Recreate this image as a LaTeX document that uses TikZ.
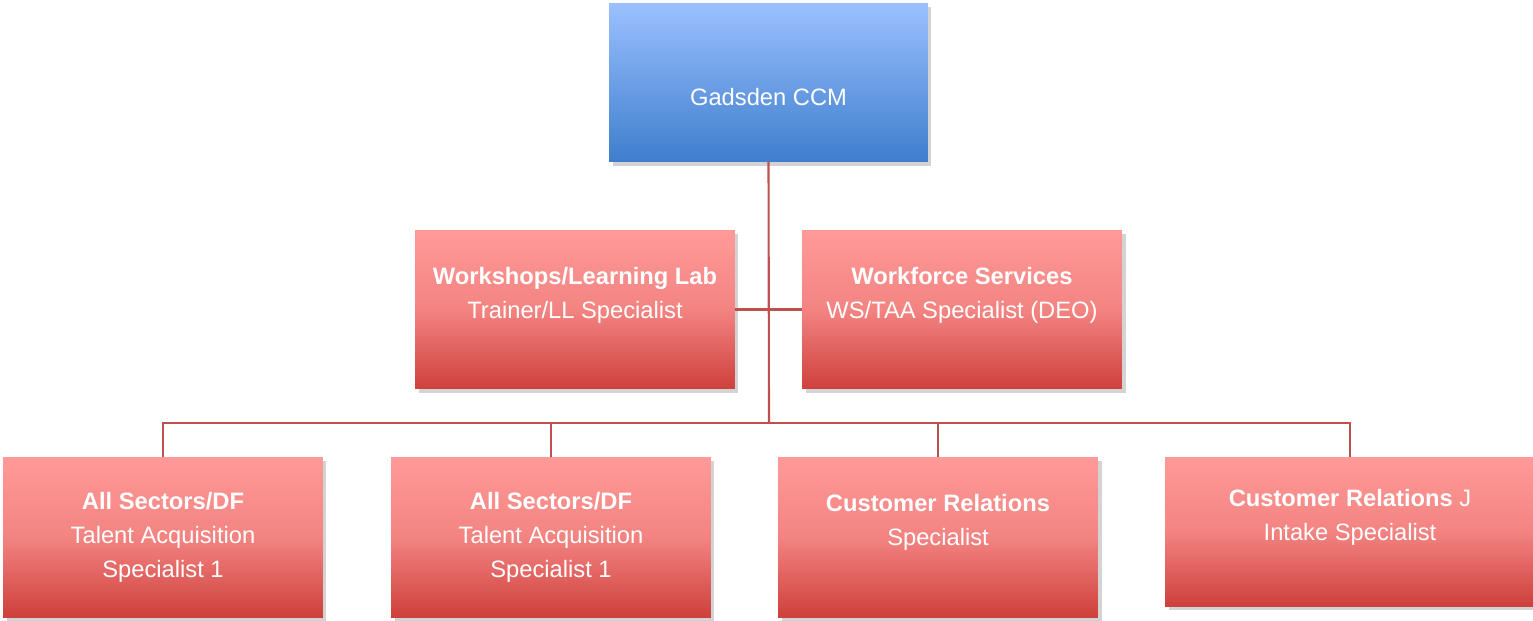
\documentclass[tikz,border=0pt]{standalone}
\usepackage{fontspec}
\setmainfont{Liberation Sans}
\definecolor{headtop}{RGB}{155, 192, 255}
\definecolor{headbot}{RGB}{62, 126, 205}
\definecolor{unittop}{RGB}{255, 154, 152}
\definecolor{unitbot}{RGB}{206, 64, 60}
\definecolor{linkred}{RGB}{192, 80, 77}
\usepackage{tikz}
\usetikzlibrary{positioning, calc, shadows}

\tikzset{
  box/.style={rectangle, inner sep=0pt, outer sep=0pt, text=white, align=center,
    font=\fontsize{13.5}{19.3}\selectfont,
    drop shadow={opacity=0.35, shadow xshift=2pt, shadow yshift=-2.5pt}},
  headbox/.style={box, top color=headtop, bottom color=headbot,
    minimum width=6.38cm, minimum height=3.18cm},
  unitbox/.style={box, top color=unittop, bottom color=unitbot, middle color=unittop!75!unitbot,
    minimum width=6.4cm, minimum height=3.2cm},
  link/.style={draw=linkred, line width=1.2pt}
}

\begin{document}
\begin{tikzpicture}[x=0.02cm, y=-0.02cm]
  \useasboundingbox (0, 0) rectangle (1533, 620);

  % Top box
  \node[headbox] (ccm) at (768.5, 82.5) {~\\[7pt]Gadsden CCM};

  % Middle row
  \node[unitbox, minimum height=3.18cm] (lab) at (575, 309.5)
    {\textbf{Workshops/Learning Lab}\\Trainer/LL Specialist\\~};
  \node[unitbox, minimum height=3.18cm] (wfs) at (962, 309.5)
    {\textbf{Workforce Services}\\WS/TAA Specialist (DEO)\\~};

  % Bottom row
  \node[unitbox] (tal1) at (163, 537)
    {\textbf{All Sectors/DF}\\Talent Acquisition\\Specialist 1};
  \node[unitbox] (tal2) at (551, 537)
    {\textbf{All Sectors/DF}\\Talent Acquisition\\Specialist 1};
  \node[unitbox] (crs) at (938, 537)
    {\textbf{Customer Relations}\\Specialist\\~};
  \node[unitbox, minimum width=7.4cm, minimum height=2.98cm] (cri) at (1350, 531.5)
    {\textbf{Customer Relations} J\\Intake Specialist\\~};

  % Connectors
  \coordinate (bus) at (769, 423);
  \draw[link] (ccm.south) -- (bus);
  \draw[link] (lab.east) -- (wfs.west);
  \draw[link] (bus) -| (tal1.north);
  \draw[link] (bus) -| (tal2.north);
  \draw[link] (bus) -| (crs.north);
  \draw[link] (bus) -| (cri.north);
\end{tikzpicture}
\end{document}
